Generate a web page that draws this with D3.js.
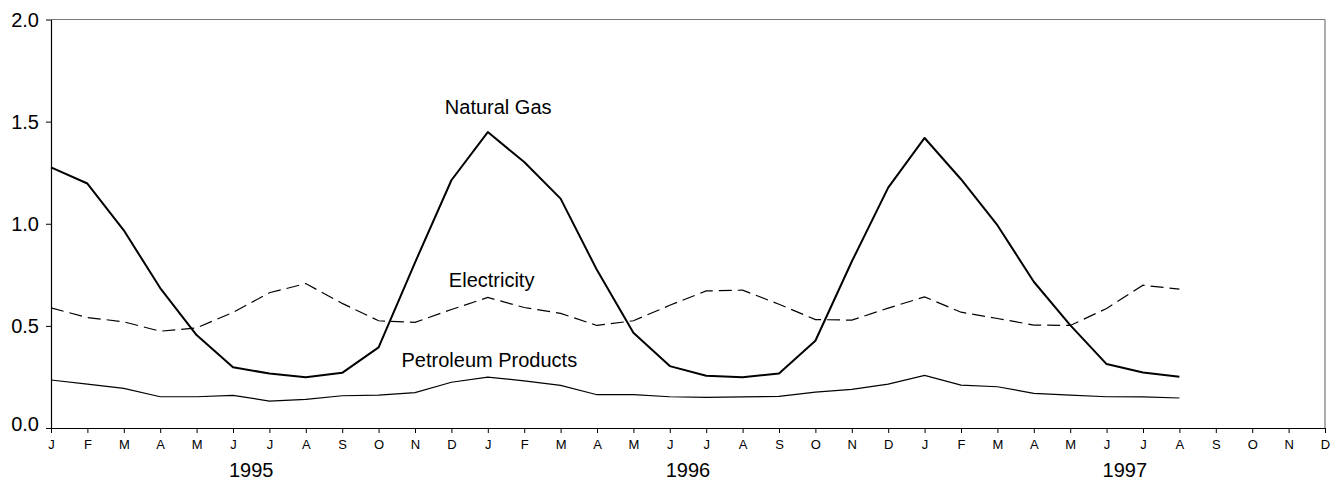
<!DOCTYPE html>
<html>
<head>
<meta charset="utf-8">
<script src="https://cdn.jsdelivr.net/npm/d3@7"></script>
<style>
  html, body { margin: 0; padding: 0; background: #fff; }
  svg { display: block; font-family: "Liberation Sans", Arial, Helvetica, sans-serif; }
</style>
</head>
<body>
<svg id="chart" width="1340" height="483"></svg>
<script>
// Monthly series, Jan 1995 – Aug 1997
const monthLetters = ["J","F","M","A","M","J","J","A","S","O","N","D"];
const years = ["1995", "1996", "1997"];
const yTicks = [0.0, 0.5, 1.0, 1.5, 2.0];

const naturalGas = [
  1.276, 1.197, 0.968, 0.685, 0.455, 0.297, 0.267, 0.249, 0.270, 0.395, 0.810, 1.213,
  1.449, 1.302, 1.123, 0.773, 0.466, 0.303, 0.256, 0.248, 0.267, 0.427, 0.815, 1.177,
  1.420, 1.218, 0.993, 0.716, 0.504, 0.313, 0.272, 0.251
];
const electricity = [
  0.588, 0.541, 0.520, 0.474, 0.490, 0.566, 0.662, 0.707, 0.610, 0.525, 0.517, 0.580,
  0.639, 0.590, 0.561, 0.502, 0.525, 0.601, 0.671, 0.675, 0.606, 0.531, 0.528, 0.587,
  0.642, 0.567, 0.536, 0.504, 0.502, 0.585, 0.699, 0.680
];
const petroleum = [
  0.235, 0.215, 0.194, 0.153, 0.153, 0.160, 0.132, 0.140, 0.158, 0.161, 0.173, 0.224,
  0.249, 0.231, 0.209, 0.163, 0.163, 0.153, 0.150, 0.152, 0.155, 0.176, 0.189, 0.215,
  0.258, 0.210, 0.202, 0.170, 0.161, 0.153, 0.152, 0.147
];

// Series annotations placed in data coordinates (month index, value)
const labels = [
  { text: "Natural Gas", m: 10.82, v: 1.535 },
  { text: "Electricity", m: 10.93, v: 0.690 },
  { text: "Petroleum Products", m: 9.63, v: 0.298 }
];

const svg = d3.select("#chart");
const margin = { left: 51, right: 15, top: 19.5, bottom: 55 };
const W = +svg.attr("width"), H = +svg.attr("height");
const nMonths = monthLetters.length * years.length;

const x = d3.scaleLinear().domain([0, nMonths - 1]).range([margin.left, W - margin.right]);
const y = d3.scaleLinear().domain([0, 2]).range([H - margin.bottom, margin.top]);

// frame: top and right edges in grey
svg.append("line")
  .attr("x1", x(0)).attr("x2", x(nMonths - 1))
  .attr("y1", y(2)).attr("y2", y(2))
  .attr("stroke", "#777").attr("stroke-width", 1.2);
svg.append("line")
  .attr("x1", x(nMonths - 1)).attr("x2", x(nMonths - 1))
  .attr("y1", y(2)).attr("y2", y(0))
  .attr("stroke", "#777").attr("stroke-width", 1.2);

// y axis
const yAxis = svg.append("g")
  .attr("transform", `translate(${x(0)},0)`)
  .call(d3.axisLeft(y).tickValues(yTicks).tickFormat(d3.format(".1f")).tickSize(5).tickPadding(7).tickSizeOuter(0));
yAxis.select(".domain").attr("stroke", "#000").attr("stroke-width", 1.2);
yAxis.selectAll(".tick line").attr("stroke", "#000");
yAxis.selectAll(".tick text")
  .attr("font-size", 20).attr("fill", "#000")
  .attr("font-family", "'Liberation Sans', Arial, sans-serif")
  .attr("dy", d => d === 0 ? "0.12em" : "0.33em");

// x axis: month letters
const monthIdx = d3.range(nMonths);
const xAxis = svg.append("g")
  .attr("transform", `translate(0,${y(0)})`)
  .call(d3.axisBottom(x).tickValues(monthIdx).tickFormat(i => monthLetters[i % 12]).tickSize(5).tickPadding(7).tickSizeOuter(0));
xAxis.select(".domain").attr("stroke", "#000").attr("stroke-width", 1.2);
xAxis.selectAll(".tick line").attr("stroke", "#000");
xAxis.selectAll(".tick text")
  .attr("font-size", 13).attr("fill", "#000")
  .attr("font-family", "'Liberation Sans', Arial, sans-serif");

// year labels centred under each year
svg.append("g").selectAll("text")
  .data(years)
  .join("text")
  .attr("x", (d, i) => x(i * 12 + 5.5))
  .attr("y", y(0) + 49)
  .attr("text-anchor", "middle")
  .attr("font-size", 20)
  .attr("fill", "#000")
  .text(d => d);

// series lines
const line = d3.line().x((d, i) => x(i)).y(d => y(d));

svg.append("path").datum(petroleum)
  .attr("d", line).attr("fill", "none")
  .attr("stroke", "#000").attr("stroke-width", 1.2);

svg.append("path").datum(electricity)
  .attr("d", line).attr("fill", "none")
  .attr("stroke", "#000").attr("stroke-width", 1.2)
  .attr("stroke-dasharray", "13,6");

svg.append("path").datum(naturalGas)
  .attr("d", line).attr("fill", "none")
  .attr("stroke", "#000").attr("stroke-width", 2)
  .attr("stroke-linejoin", "round");

// annotations
svg.append("g").selectAll("text")
  .data(labels)
  .join("text")
  .attr("x", d => x(d.m))
  .attr("y", d => y(d.v))
  .attr("font-size", 20)
  .attr("fill", "#000")
  .text(d => d.text);
</script>
</body>
</html>
